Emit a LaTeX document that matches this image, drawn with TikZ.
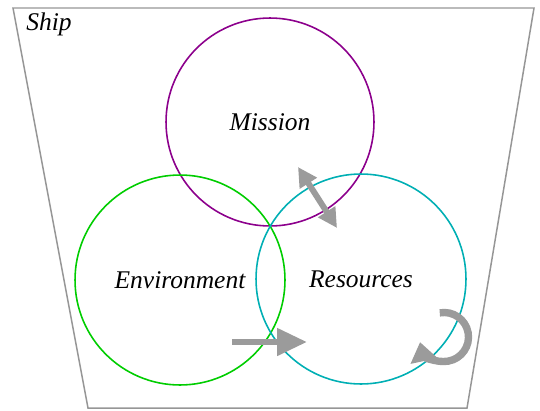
\documentclass[tikz,border=0pt]{standalone}
\usepackage{fontspec}
\setmainfont{Liberation Serif}
\usepackage{tikz}
\usetikzlibrary{arrows.meta}
\definecolor{mpurple}{RGB}{140, 0, 140}
\definecolor{egreen}{RGB}{0, 205, 0}
\definecolor{rteal}{RGB}{0, 175, 180}
\definecolor{fgray}{RGB}{150, 150, 150}
\definecolor{agray}{RGB}{155, 155, 155}
\tikzset{
  area/.style={circle, draw=#1, line width=0.9pt, minimum size=4.2cm, inner sep=0pt,
    font=\fontsize{14.5}{17}\selectfont\itshape},
  flow/.style={draw=agray, line width=3.6pt},
}
\begin{document}
\begin{tikzpicture}[x=0.02cm, y=0.02cm]
  \useasboundingbox (0, 0) rectangle (540, 410);
  % the ship hull
  \draw[fgray, line width=0.85pt] (13, 402) -- (534, 402) -- (467, 2) -- (88, 2) -- cycle;
  \node[font=\fontsize{14.5}{17}\selectfont\itshape] (ship) at (49, 386) {Ship};
  % three overlapping areas
  \node[area=mpurple, minimum size=4.16cm] (mission) at (270, 288) {Mission};
  \node[area=egreen] (env) at (180, 130) {Environment};
  \node[area=rteal] (res) at (361, 131) {Resources};
  % exchanges
  \coordinate (mr1) at (298, 243);
  \coordinate (mr2) at (337, 182);
  \draw[flow, line width=3.4pt, {Triangle[length=11pt, width=11pt]}-{Triangle[length=11pt, width=11pt]}] (mr1) -- (mr2);
  \coordinate (er1) at (232, 68);
  \coordinate (er2) at (307, 68);
  \draw[flow, -{Triangle[length=17pt, width=15pt]}] (er1) -- (er2);
  \coordinate (loop) at (444, 73);
  \draw[flow, line width=4.2pt, -{Triangle[length=11pt, width=15pt]}] ([shift={(100:24.5)}]loop) arc (100:-168:24.5);
\end{tikzpicture}
\end{document}
